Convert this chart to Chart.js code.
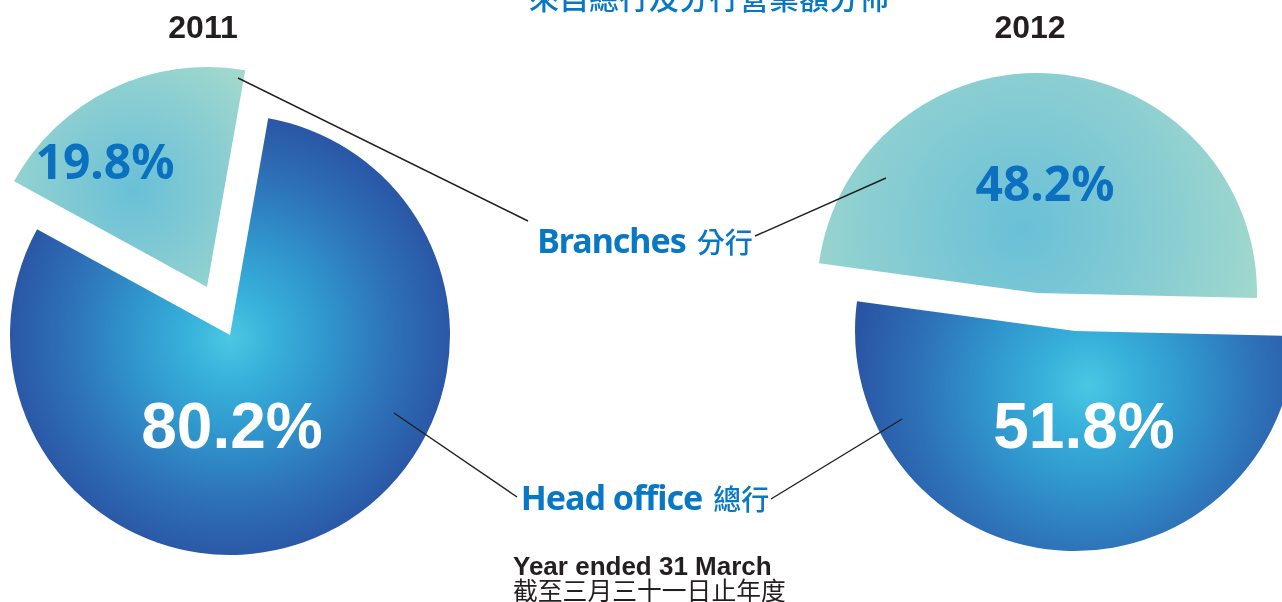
<!DOCTYPE html>
<html>
<head>
<meta charset="utf-8">
<script src="https://cdn.jsdelivr.net/npm/chart.js@4.4.1/dist/chart.umd.min.js"></script>
<style>
  html, body { margin: 0; padding: 0; background: #fff; }
  #stage { position: relative; width: 1282px; height: 602px; overflow: hidden; }
  .layer { position: absolute; left: 0; top: 0; width: 1282px; height: 602px; }
  .txt { position: absolute; white-space: nowrap; line-height: 1; transform: translate(-50%, -50%); }
  .year { font: bold 32px "Liberation Sans", Arial, sans-serif; color: #231F20; }
  .title { font: 500 30px "Noto Sans CJK TC", sans-serif; color: #0877C4; }
  .cat { font: bold 34px "Noto Sans", sans-serif; letter-spacing: -1px; color: #0877C4; }
  .cat .cjk { font: 500 28px "Noto Sans CJK TC", sans-serif; letter-spacing: 0; margin-left: 11px; }
  .pct-white { font: bold 64px "Liberation Sans", Arial, sans-serif; color: #fff; }
  .pct-blue { font: bold 48px "Noto Sans", sans-serif; color: #0A70BF; }
  .foot { position: absolute; left: 513px; white-space: nowrap; line-height: 1; color: #231F20; }
  .foot.en { top: 551px; font: bold 26px "Liberation Sans", Arial, sans-serif; }
  .foot.zh { top: 571px; font: 400 24.8px "Noto Sans CJK TC", sans-serif; }
</style>
</head>
<body>
<div id="stage">
  <div class="layer"><canvas id="pie2011"></canvas></div>
  <div class="layer"><canvas id="pie2012"></canvas></div>
  <svg class="layer" width="1282" height="602">
    <g stroke="#231F20" stroke-width="1.4">
      <line x1="238" y1="78" x2="528" y2="221"/>
      <line x1="755" y1="236" x2="886" y2="178"/>
      <line x1="394" y1="413" x2="517" y2="497"/>
      <line x1="771" y1="499" x2="902" y2="419"/>
    </g>
  </svg>
  <div class="txt title" style="left:709px; top:-4px;">來自總行及分行營業額分佈</div>
  <div class="txt year" id="y0" style="left:203px; top:27px;"></div>
  <div class="txt year" id="y1" style="left:1030px; top:27px;"></div>
  <div class="txt cat" id="cat1" style="left:645px; top:240px;"></div>
  <div class="txt cat" id="cat0" style="left:645px; top:497px;"></div>
  <div class="foot en">Year ended 31 March</div>
  <div class="foot zh">截至三月三十一日止年度</div>
</div>
<script>
const categories = ['Head office', 'Branches'];
const categoriesZh = ['總行', '分行'];
const years = ['2011', '2012'];
const headOffice = [80.2, 51.8];
const branches = [19.8, 48.2];

// layout and look for each year's pie
const looks = [
    { canvas: 'pie2011', pad: { left: 10, right: 832, top: 115, bottom: 47 }, rotation: 10,
      shift: [[0, 0], [-23, -48]], focus: [[0, 3], [-73, -97]], reach: [225, 155],
      label: [[2, 91], [-102, -127]] },
    { canvas: 'pie2012', pad: { left: 870, right: 2, top: 126, bottom: 66 }, rotation: 91.3,
      shift: [[0, 0], [-38, -38]], focus: [[13, 54], [-15, -65]], reach: [235, 245],
      label: [[9, 95], [8, -111]] }
]

const stops = [
    [[0, '#4AC8E3'], [0.2, '#37B0DA'], [0.45, '#3094CC'], [0.7, '#2E74B9'], [1, '#2A55A5']],
    [[0, '#69C0D7'], [0.5, '#84CBD3'], [1, '#A0D8CD']]
]

// moves each slice by its own offset (pulled-out pieces)
const explode = {
    id: 'explode',
    afterDatasetUpdate(chart, args, opts) {
        args.meta.data.forEach((arc, i) => {
            const s = opts.shift[i] || [0, 0]
            arc.x += s[0]
            arc.y += s[1]
        })
    }
}

function sliceFill(c, look) {
    const i = c.dataIndex
    const area = c.chart.chartArea
    if (i === undefined || !area) return '#2A55A5'
    const cx = (area.left + area.right) / 2 + look.shift[i][0] + look.focus[i][0]
    const cy = (area.top + area.bottom) / 2 + look.shift[i][1] + look.focus[i][1]
    const g = c.chart.ctx.createRadialGradient(cx, cy, 0, cx, cy, look.reach[i])
    stops[i].forEach(s => g.addColorStop(s[0], s[1]))
    return g
}

document.getElementById('y0').textContent = years[0]
document.getElementById('y1').textContent = years[1]
categories.forEach((name, i) => {
    document.getElementById('cat' + i).innerHTML = name + '<span class="cjk">' + categoriesZh[i] + '</span>'
})

const stage = document.getElementById('stage')

looks.forEach((look, y) => {
    const chart = new Chart(document.getElementById(look.canvas), {
        type: 'pie',
        data: {
            labels: categories,
            datasets: [{
                data: [headOffice[y], branches[y]],
                backgroundColor: c => sliceFill(c, look),
                borderWidth: 0,
                radius: 220,
                rotation: look.rotation,
                clip: false
            }]
        },
        options: {
            responsive: true,
            maintainAspectRatio: false,
            animation: false,
            events: [],
            layout: { padding: look.pad },
            plugins: {
                legend: { display: false },
                tooltip: { enabled: false },
                explode: { shift: look.shift }
            }
        },
        plugins: [explode]
    })

    // percentage labels placed on each slice
    chart.getDatasetMeta(0).data.forEach((arc, i) => {
        const d = document.createElement('div')
        d.className = 'txt ' + (i === 0 ? 'pct-white' : 'pct-blue')
        d.textContent = chart.data.datasets[0].data[i].toFixed(1) + '%'
        d.style.left = (arc.x + look.label[i][0]) + 'px'
        d.style.top = (arc.y + look.label[i][1]) + 'px'
        stage.appendChild(d)
    })
})
</script>
</body>
</html>
